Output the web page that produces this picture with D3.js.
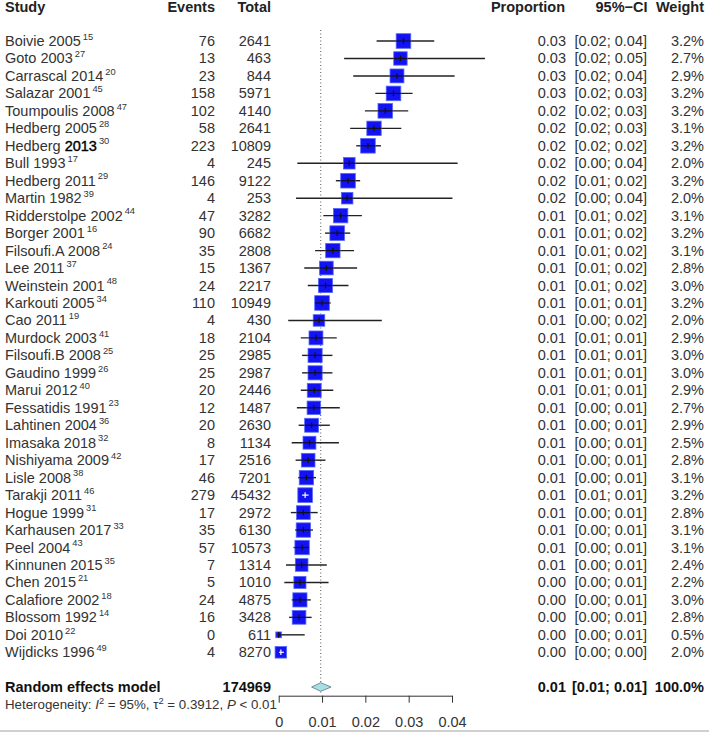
<!DOCTYPE html>
<html><head><meta charset="utf-8">
<script src="https://cdn.jsdelivr.net/npm/d3@7"></script>
<style>body{margin:0;background:#fff;} svg{display:block;font-family:"Liberation Sans",Arial,Helvetica,sans-serif;}</style>
</head><body><svg id="c" width="709" height="733"></svg>
<script>
// ---------------- data ----------------
const studies = ["Boivie 2005","Goto 2003","Carrascal 2014","Salazar 2001","Toumpoulis 2008","Hedberg 2005","Hedberg 2013","Bull 1993","Hedberg 2011","Martin 1982","Ridderstolpe 2002","Borger 2001","Filsoufi.A 2008","Lee 2011","Weinstein 2001","Karkouti 2005","Cao 2011","Murdock 2003","Filsoufi.B 2008","Gaudino 1999","Marui 2012","Fessatidis 1991","Lahtinen 2004","Imasaka 2018","Nishiyama 2009","Lisle 2008","Tarakji 2011","Hogue 1999","Karhausen 2017","Peel 2004","Kinnunen 2015","Chen 2015","Calafiore 2002","Blossom 1992","Doi 2010","Wijdicks 1996"];
const refs = ["15","27","20","45","47","28","30","17","29","39","44","16","24","37","48","34","19","41","25","26","40","23","36","32","42","38","46","31","33","43","35","21","18","14","22","49"];
const events = [76,13,23,158,102,58,223,4,146,4,47,90,35,15,24,110,4,18,25,25,20,12,20,8,17,46,279,17,35,57,7,5,24,16,0,4];
const totals = [2641,463,844,5971,4140,2641,10809,245,9122,253,3282,6682,2808,1367,2217,10949,430,2104,2985,2987,2446,1487,2630,1134,2516,7201,45432,2972,6130,10573,1314,1010,4875,3428,611,8270];
const proportion = [0.0288,0.0281,0.0273,0.0265,0.0246,0.0220,0.0206,0.0163,0.0160,0.0158,0.0143,0.0135,0.0125,0.0110,0.0108,0.0100,0.0093,0.0086,0.0084,0.0084,0.0082,0.0081,0.0076,0.0071,0.0068,0.0064,0.0061,0.0057,0.0057,0.0054,0.0053,0.0049,0.0049,0.0047,0.0000,0.0005];
const ciLow = [0.0226,0.0151,0.0172,0.0223,0.0199,0.0165,0.0179,0.0043,0.0132,0.0040,0.0103,0.0107,0.0084,0.0059,0.0067,0.0084,0.0022,0.0051,0.0054,0.0054,0.0051,0.0042,0.0046,0.0030,0.0039,0.0045,0.0054,0.0028,0.0038,0.0034,0.0017,0.0013,0.0030,0.0024,0.0000,0.0001];
const ciHigh = [0.0359,0.0476,0.0406,0.0309,0.0299,0.0283,0.0236,0.0413,0.0188,0.0401,0.0192,0.0165,0.0174,0.0181,0.0161,0.0120,0.0238,0.0134,0.0124,0.0124,0.0126,0.0141,0.0118,0.0139,0.0108,0.0086,0.0069,0.0090,0.0079,0.0070,0.0111,0.0115,0.0074,0.0076,0.0060,0.0012];
const weights = [3.2,2.7,2.9,3.2,3.2,3.1,3.2,2.0,3.2,2.0,3.1,3.2,3.1,2.8,3.0,3.2,2.0,2.9,3.0,3.0,2.9,2.7,2.9,2.5,2.8,3.1,3.2,2.8,3.1,3.1,2.4,2.2,3.0,2.8,0.5,2.0];
const pooledLabel = ["Random effects model"];
const pooledTotal = [174969];
const pooledValues = [0.0097, 0.0076, 0.0121]; // estimate, lower, upper
const pooledWeight = [100.0];
const axisTicks = [0, 0.01, 0.02, 0.03, 0.04];
const headers = ["Study","Events","Total","Proportion","95%\u2212CI","Weight"];

// ---------------- drawing ----------------
const svg = d3.select("#c");
const FS = 14.5, TXT = "#333";
const x = d3.scaleLinear().domain([0, 0.04]).range([278.7, 452]);
const y = d3.scalePoint().domain(d3.range(studies.length)).range([41, 652.3]);
const side = d3.scaleSqrt().domain([0, 3.2]).range([0, 14.6]);
const f2 = v => v.toFixed(2);
const ciTxt = (a, b) => "[" + f2(a) + "; " + f2(b) + "]";

const colX = {study:5, events:215, total:271, prop:566, ci:647, weight:704};

// headers
const hx = [colX.study, colX.events, colX.total, 565, 647.5, colX.weight];
const ha = ["start","end","end","end","end","end"];
svg.append("g").selectAll("text").data(headers).join("text")
  .attr("x", (d,i) => hx[i]).attr("y", 11.5).attr("text-anchor", (d,i) => ha[i])
  .attr("font-size", FS).attr("font-weight", "bold").attr("fill", "#222").text(d => d);

// dotted reference line at pooled estimate
svg.append("line").attr("x1", x(pooledValues[0])).attr("x2", x(pooledValues[0]))
  .attr("y1", 30).attr("y2", 693).attr("stroke", "#555").attr("stroke-width", 1)
  .attr("stroke-dasharray", "1,2.5");

// study rows text
const rows = svg.append("g").selectAll("g").data(studies).join("g")
  .attr("transform", (d,i) => `translate(0,${y(i) + 5})`)
  .attr("font-size", FS).attr("fill", TXT);

rows.each(function(d, i) {
  const g = d3.select(this);
  const t = g.append("text").attr("x", colX.study);
  if (d === "Hedberg 2013") {
    t.append("tspan").text("Hedberg ");
    t.append("tspan").attr("fill", "#000").attr("stroke", "#000").attr("stroke-width", 0.4).text("2013");
  } else {
    t.append("tspan").text(d);
  }
  t.append("tspan").attr("dx", 2).attr("dy", -6.3).attr("font-size", 9.3).text(refs[i]);
  g.append("text").attr("x", colX.events).attr("text-anchor", "end").text(events[i]);
  g.append("text").attr("x", colX.total).attr("text-anchor", "end").text(totals[i]);
  g.append("text").attr("x", colX.prop).attr("text-anchor", "end").text(f2(proportion[i]));
  g.append("text").attr("x", colX.ci).attr("text-anchor", "end").text(ciTxt(ciLow[i], ciHigh[i]));
  g.append("text").attr("x", colX.weight).attr("text-anchor", "end").text(weights[i].toFixed(1) + "%");
});

// CI lines, squares
const marks = svg.append("g");
studies.forEach((d, i) => {
  const cy = y(i), cx = x(proportion[i]), s = side(weights[i]);
  const xl = x(ciLow[i]), xh = x(ciHigh[i]);
  marks.append("line").attr("x1", xl).attr("x2", xh).attr("y1", cy).attr("y2", cy)
    .attr("stroke", "#222").attr("stroke-width", 1.4);
  marks.append("rect").attr("x", cx - s/2).attr("y", cy - s/2).attr("width", s).attr("height", s)
    .attr("fill", "#1212f2").attr("stroke", "#5466ff").attr("stroke-width", 0.8);
  const inside = xl >= cx - s/2 && xh <= cx + s/2;
  const col = inside ? "#fff" : "#111";
  marks.append("line").attr("x1", Math.max(xl, cx - s/2)).attr("x2", Math.min(xh, cx + s/2))
    .attr("y1", cy).attr("y2", cy).attr("stroke", col).attr("stroke-width", 1.2);
  marks.append("line").attr("x1", cx).attr("x2", cx).attr("y1", cy - 2.8).attr("y2", cy + 2.8)
    .attr("stroke", col).attr("stroke-width", 1.2);
});

// pooled row
const py = 687;
const pg = svg.append("g").attr("font-size", FS).attr("font-weight", "bold").attr("fill", "#111");
pg.append("text").attr("x", colX.study).attr("y", py + 5).text(pooledLabel[0]);
pg.append("text").attr("x", colX.total).attr("y", py + 5).attr("text-anchor", "end").text(pooledTotal[0]);
pg.append("text").attr("x", colX.prop).attr("y", py + 5).attr("text-anchor", "end").text(f2(pooledValues[0]));
pg.append("text").attr("x", colX.ci).attr("y", py + 5).attr("text-anchor", "end").text(ciTxt(pooledValues[1], pooledValues[2]));
pg.append("text").attr("x", colX.weight).attr("y", py + 5).attr("text-anchor", "end").text(pooledWeight[0].toFixed(1) + "%");

const dh = 4.3;
svg.append("path")
  .attr("d", `M${x(pooledValues[1])},${py} L${x(pooledValues[0])},${py - dh} L${x(pooledValues[2])},${py} L${x(pooledValues[0])},${py + dh} Z`)
  .attr("fill", "#a8dee4").attr("stroke", "#6f8f99").attr("stroke-width", 1);

// heterogeneity
const het = svg.append("text").attr("x", 5).attr("y", 709).attr("font-size", 13.3).attr("fill", TXT);
het.append("tspan").text("Heterogeneity: ");
het.append("tspan").attr("font-style", "italic").text("I");
het.append("tspan").attr("dy", -5).attr("font-size", 9.3).text("2");
het.append("tspan").attr("dy", 5).text(" = 95%, \u03C4");
het.append("tspan").attr("dy", -5).attr("font-size", 9.3).text("2");
het.append("tspan").attr("dy", 5).text(" = 0.3912, ");
het.append("tspan").attr("font-style", "italic").text("P");
het.append("tspan").text(" < 0.01");

// axis
const ax = svg.append("g").attr("transform", "translate(0,695.7)")
  .call(d3.axisBottom(x).tickValues(axisTicks).tickSize(7).tickSizeOuter(0).tickPadding(14)
    .tickFormat(d => d === 0 ? "0" : d3.format(".2f")(d)));
ax.select(".domain").attr("stroke", "#333");
ax.selectAll(".tick line").attr("stroke", "#333");
ax.selectAll(".tick text").attr("font-size", FS).attr("fill", TXT).attr("font-family", "Liberation Sans, Arial, sans-serif");

// bottom border line
svg.append("rect").attr("x", 0).attr("y", 730).attr("width", 709).attr("height", 2).attr("fill", "#d0d0d0");
</script></body></html>
